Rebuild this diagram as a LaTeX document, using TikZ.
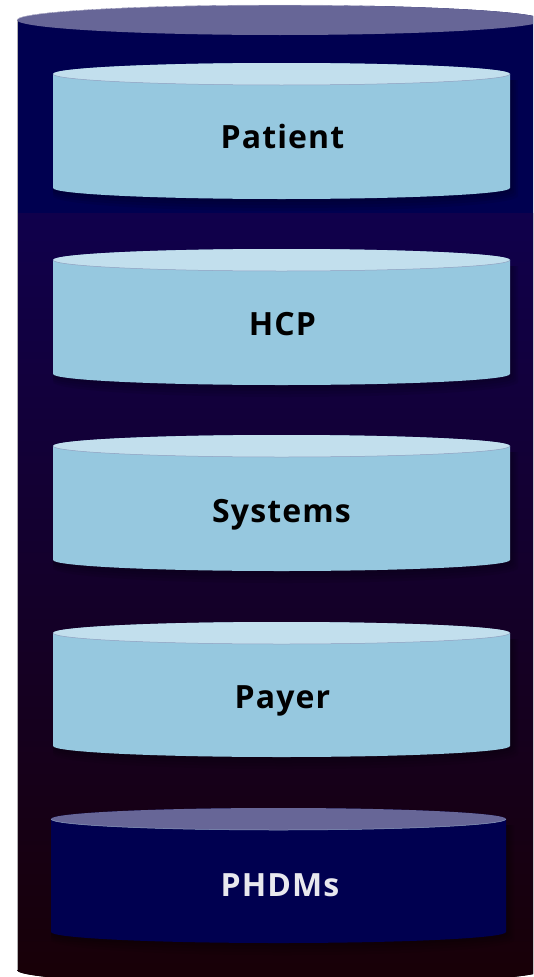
\documentclass[tikz,border=0pt]{standalone}
\usepackage{fontspec}
\setmainfont[LetterSpace=3.5]{Open Sans}
\definecolor{navyc}{HTML}{000050}
\definecolor{navytop}{HTML}{676697}
\definecolor{bodyc}{HTML}{96C8DF}
\definecolor{bodytop}{HTML}{C2DFED}
\definecolor{rimline}{HTML}{8FA0C0}
\tikzset{
  label text/.style={font=\bfseries\fontsize{32pt}{36pt}\selectfont,inner sep=0pt,anchor=base},
}
\newcommand{\drumpath}[4]{(#1,#3) -- (#1,#4) arc[start angle=180,end angle=0,x radius={(#2-#1)/2},y radius=11] -- (#2,#3) arc[start angle=0,end angle=-180,x radius={(#2-#1)/2},y radius=11] -- cycle}
\newcommand{\drumshadow}[4]{%
  \foreach \g in {8,6,4,2}{
    \fill[black,opacity=0.07] (#1,{#3+6}) -- (#1,{#4+\g}) arc[start angle=180,end angle=0,x radius={(#2-#1)/2+\g/2},y radius={11+\g/2}] -- ({#2+\g},{#3+6}) -- cycle;
  }}
\newcommand{\drum}[6]{% x0 x1 ytop ybot body top
  \drumshadow{#1}{#2}{#3}{#4}
  \fill[#5] \drumpath{#1}{#2}{#3}{#4};
  \fill[#6] ({(#1+#2)/2},#3) ellipse[x radius={(#2-#1)/2},y radius=11];
  \draw[rimline,line width=0.5pt] (#1,#3) arc[start angle=180,end angle=0,x radius={(#2-#1)/2},y radius=11];
}
\begin{document}
\begin{tikzpicture}[x=1pt,y=-1pt]
\useasboundingbox (0,0) rectangle (533,977);
\begin{scope}
\clip (0,0) rectangle (533,977);
\begin{scope}
\clip (17,20) -- (17,970) arc[start angle=180,end angle=0,x radius=263,y radius=15] -- (543,20) arc[start angle=0,end angle=-180,x radius=263,y radius=15] -- cycle;
\fill[navyc] (0,0) rectangle (560,213);
\fill[top color={rgb,255:red,16;green,0;blue,76},middle color={rgb,255:red,22;green,0;blue,44},bottom color={rgb,255:red,24;green,0;blue,6}] (0,213) rectangle (560,990);
\end{scope}
\draw[gray!60,line width=0.4pt] (17,20) -- (17,970);
\fill[navytop] (280,20) ellipse[x radius=263,y radius=15];
\draw[white!80!navytop,line width=0.4pt] (17,20) arc[start angle=180,end angle=290,x radius=263,y radius=15];
\drum{53}{510}{74}{188}{bodyc}{bodytop}
\drum{53}{510}{260}{374}{bodyc}{bodytop}
\drum{53}{510}{446}{560}{bodyc}{bodytop}
\drum{53}{510}{633}{746}{bodyc}{bodytop}
\drum{51}{506}{819}{932}{navyc}{navytop}
\end{scope}
\node[label text] (patient) at (282.5,148.5) {Patient};
\node[label text] (hcp) at (282.5,335) {HCP};
\node[label text] (systems) at (281.5,522) {Systems};
\node[label text] (payer) at (282.5,708.5) {Payer};
\node[label text,text={rgb,255:red,232;green,232;blue,238}] (phdms) at (280,896.5) {PHDMs};
\end{tikzpicture}
\end{document}
